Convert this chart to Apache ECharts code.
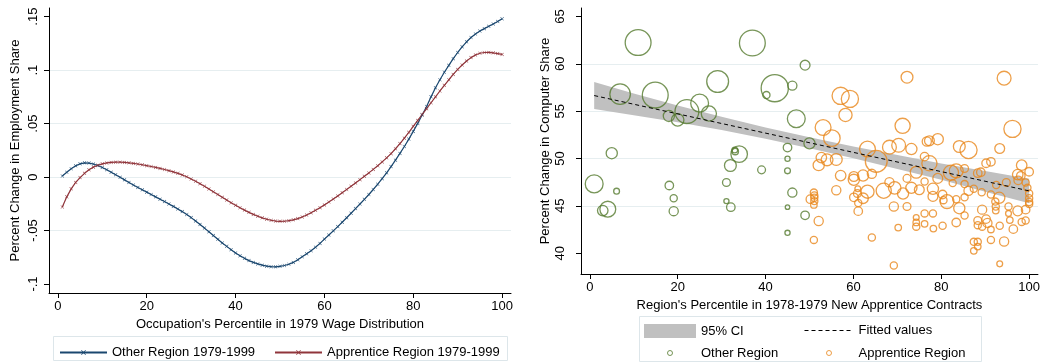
<!DOCTYPE html>
<html><head><meta charset="utf-8">
<script src="https://cdn.jsdelivr.net/npm/echarts@6/dist/echarts.min.js"></script>
<style>html,body{margin:0;padding:0;background:#fff}#c{width:1043px;height:363px}</style>
</head><body><div id="c"></div><script>
// ---------- Left panel data ----------
const pct = [1,2,3,4,5,6,7,8,9,10,11,12,13,14,15,16,17,18,19,20,21,22,23,24,25,26,27,28,29,30,31,32,33,34,35,36,37,38,39,40,41,42,43,44,45,46,47,48,49,50,51,52,53,54,55,56,57,58,59,60,61,62,63,64,65,66,67,68,69,70,71,72,73,74,75,76,77,78,79,80,81,82,83,84,85,86,87,88,89,90,91,92,93,94,95,96,97,98,99,100];
const otherShare = [0.001,0.0045,0.0078,0.0105,0.0124,0.0133,0.0131,0.0122,0.0108,0.0090,
  0.0069,0.0046,0.0022,-0.0002,-0.0026,-0.005,-0.0074,-0.0097,-0.0119,-0.0141,
  -0.0163,-0.0185,-0.0207,-0.0229,-0.0251,-0.0274,-0.0298,-0.0323,-0.035,-0.0379,
  -0.041,-0.0443,-0.0477,-0.0512,-0.0547,-0.0582,-0.0616,-0.0648,-0.0679,-0.0709,
  -0.0736,-0.076,-0.0781,-0.0798,-0.0812,-0.0824,-0.0833,-0.0838,-0.0839,-0.0835,
  -0.0827,-0.0815,-0.0798,-0.0774,-0.0745,-0.0718,-0.0689,-0.0656,-0.062,-0.058,
  -0.0542,-0.0503,-0.0463,-0.0422,-0.038,-0.0338,-0.0295,-0.0252,-0.0208,-0.0163,
  -0.0116,-0.0067,-0.0015,0.004,0.0098,0.0158,0.0221,0.0286,0.0355,0.0427,
  0.0502,0.058,0.066,0.075,0.0835,0.091,0.098,0.1045,0.1107,0.1165,
  0.1218,0.1265,0.1305,0.1338,0.1365,0.1388,0.141,0.1432,0.1455,0.148];
const apprShare = [-0.028,-0.0185,-0.011,-0.005,-0.0005,0.0035,0.0068,0.0093,0.0111,0.0124,
  0.0132,0.0137,0.0139,0.0139,0.0137,0.0133,0.0128,0.0122,0.0115,0.0107,
  0.0099,0.009,0.0081,0.0071,0.006,0.0048,0.0035,0.002,0.0003,-0.0018,
  -0.0039,-0.0062,-0.0086,-0.0111,-0.0137,-0.0163,-0.0189,-0.0215,-0.024,-0.0264,
  -0.0287,-0.0309,-0.033,-0.0349,-0.0366,-0.0381,-0.0394,-0.0404,-0.0411,-0.0414,
  -0.0413,-0.0408,-0.04,-0.0388,-0.0373,-0.0355,-0.0334,-0.0311,-0.0286,-0.026,
  -0.0233,-0.0205,-0.0176,-0.0146,-0.0116,-0.0086,-0.0055,-0.0024,0.0007,0.0039,
  0.0072,0.0106,0.0142,0.018,0.0219,0.0265,0.0313,0.0364,0.0418,0.0475,
  0.053,0.0585,0.064,0.0695,0.075,0.0805,0.0858,0.091,0.096,0.1007,
  0.1048,0.1085,0.1117,0.1142,0.1158,0.1165,0.1166,0.1162,0.1155,0.1147];
const xTicks = [0,20,40,60,80,100];
const leftYTicks = [-0.1,-0.05,0,0.05,0.1,0.15];
const leftYLabels = ['-.1','-.05','0','.05','.1','.15'];

// ---------- Right panel data ----------
const rightYTicks = [40,45,50,55,60,65];
// Other Region: percentile, % change, weight
const otherX = [11.0,37.0,49.0,29.1,42.1,46.1,40.2,6.9,14.9,25.0,22.1,27.1,18.0,20.0,47.0,50.0,45.0,5.0,33.0,33.1,34.0,32.0,45.0,45.0,39.1,1.0,6.1,18.1,31.1,46.1,19.1,31.1,32.1,45.0,2.95,4.1,19.1,49.0,45.0];
const otherY = [62.25,62.2,59.86,58.13,57.43,57.7,56.7,56.8,56.7,55.85,54.96,54.75,54.5,54.08,54.2,51.6,51.16,50.56,50.9,50.74,50.46,49.26,49.97,48.7,48.8,47.32,46.55,47.15,47.46,46.4,45.8,45.5,44.86,44.86,44.5,44.65,44.44,44.0,42.15];
const otherW = [1444,1444,196,1024,1600,169,100,900,1444,676,1225,484,256,324,676,256,144,256,64,81,576,289,49,64,121,676,64,144,121,169,100,49,144,36,225,529,169,144,49];
// Apprentice Region
const apprX = [51.0,51.1,51.1,50.2,51.1,51.0,52.1,51.0,
  72.2,57.1,59.2,58.2,53.1,71.2,55.1,76.7,63.2,68.2,70.3,73.2,65.2,52.1,52.7,54.0,56.1,57.1,60.1,60.1,62.2,64.2,56.1,60.1,61.0,60.9,62.2,63.2,66.9,69.4,68.2,71.3,73.2,75.0,74.3,72.2,61.1,61.1,69.2,72.2,76.2,74.3,74.3,74.3,76.2,70.2,64.2,69.2,
  94.3,96.2,79.2,77.3,84.1,86.2,93.3,76.2,77.3,90.2,91.3,98.3,85.3,83.4,82.2,88.3,89.0,100,97.4,98.1,79.2,94.8,99.2,97.5,85.3,82.6,76.2,78.1,87.4,86.2,89.2,91.3,92.5,78.1,80.3,80.5,81.3,83.4,85.3,84.1,93.2,92.3,92.4,92.4,89.3,95.3,95.3,97.4,99.2,100,100,100,100,99.6,78.1,83.4,85.3,80.3,78.2,88.3,90.2,88.3,89.3,90.5,91.3,93.3,91.3,94.3,87.4,88.3,88.3,87.4,96.4,98.3,99.2,95.6,93.3];
const apprY = [46.4,46.1,45.85,45.7,45.5,45.1,43.4,41.4,
  58.59,56.62,56.3,54.6,53.27,53.45,52.15,51.8,51.0,51.2,51.4,51.0,49.7,49.3,50.1,49.86,49.9,48.2,48.1,47.75,48.2,48.38,46.65,45.9,46.8,46.3,45.8,46.5,46.6,46.9,47.5,46.3,46.9,46.7,48.55,47.9,45.3,44.44,44.93,44.93,44.2,43.77,43.25,42.8,43.1,42.7,41.65,38.7,
  58.49,53.13,52.04,51.87,51.27,50.9,51.06,50.2,49.5,49.5,49.65,49.3,48.94,48.7,48.5,48.45,48.55,48.6,48.3,48.17,47.9,47.46,47.46,47.7,47.3,47.4,47.57,46.8,46.8,46.6,46.44,46.2,47.2,46.0,46.2,45.6,45.45,45.7,45.9,44.75,45.85,45.45,44.93,44.5,44.6,44.93,44.2,44.47,44.6,45.8,45.4,45.2,46.3,46.9,44.2,43.24,43.98,42.9,42.6,43.45,43.6,42.96,42.8,43.2,42.5,42.9,41.4,41.23,41.2,41.2,40.7,40.25,42.54,43.3,43.45,43.5,38.87];
const apprW = [100,100,100,144,100,81,169,100,
  289,625,625,361,529,484,576,169,529,400,400,256,1024,256,225,289,289,225,196,256,256,169,169,144,64,121,225,361,484,324,169,256,256,196,289,121,100,144,169,121,100,64,81,100,81,81,100,100,
  400,625,256,196,289,625,196,144,484,144,144,225,121,400,484,144,144,144,225,144,196,121,100,144,100,100,100,256,100,169,100,100,100,196,144,100,400,100,100,256,256,100,100,81,169,100,64,196,144,100,100,100,100,100,100,144,100,100,81,121,144,100,100,169,81,100,100,169,100,100,81,81,144,100,100,81,64];
// Fitted line and 95% CI
const fitX = [1, 100];
const fitY = [56.65, 46.58];
const ciX = [1,10,20,30,40,50,60,70,80,90,100];
const ciHi = [58.08,56.88,55.60,54.40,53.28,52.24,51.26,50.38,49.46,48.69,47.87];
const ciLo = [55.22,54.58,53.84,53.00,52.08,51.08,50.02,48.88,47.76,46.49,45.27];

// ---------- Styles ----------
const FONT = 'Liberation Sans, Arial, sans-serif';
const BLUE = '#1a476f', RED = '#90353b', GREEN = '#557a2e', ORANGE = '#e8871c';
const GRID_COLOR = '#e6eef0';
const XMARK = 'path://M0,1L1,0L5,4L9,0L10,1L6,5L10,9L9,10L5,6L1,10L0,9L4,5Z';

function fmtFrom(ticks, labels) {
  return function (v) {
    const i = ticks.findIndex(t => Math.abs(t - v) < 1e-9);
    return i >= 0 ? labels[i] : '';
  };
}
function xAxisCfg(gridIndex, name) {
  return {
    type: 'value', gridIndex, min: -2, max: 102, splitNumber: 5,
    name, nameLocation: 'middle', nameGap: 21,
    nameTextStyle: { fontSize: 13, color: '#000', fontFamily: FONT },
    axisLine: { show: true, onZero: false, lineStyle: { color: '#000', width: 1 } },
    axisTick: { show: true, length: 5, customValues: xTicks, lineStyle: { color: '#000' } },
    axisLabel: { customValues: xTicks, margin: 7, fontSize: 13, color: '#000', fontFamily: FONT,
      formatter: fmtFrom(xTicks, xTicks.map(String)), showMinLabel: true, showMaxLabel: true },
    splitLine: { show: false }
  };
}
function yAxisCfg(gridIndex, name, min, max, ticks, labels, nameGap, margin) {
  return {
    type: 'value', gridIndex, min, max, splitNumber: 5,
    name, nameLocation: 'middle', nameGap, nameRotate: 90,
    nameTextStyle: { fontSize: 13, color: '#000', fontFamily: FONT },
    axisLine: { show: true, onZero: false, lineStyle: { color: '#000', width: 1 } },
    axisTick: { show: true, length: 5, customValues: ticks, lineStyle: { color: '#000' } },
    axisLabel: { customValues: ticks, rotate: 90, margin, fontSize: 13, color: '#000', fontFamily: FONT,
      formatter: fmtFrom(ticks, labels) },
    splitLine: { show: true, showMinLine: false, showMaxLine: false, lineStyle: { color: GRID_COLOR, width: 1 } }
  };
}
function legendCfg(item, left, top, w, h) {
  return { data: [item], left, top, padding: 0, itemWidth: w, itemHeight: h, selectedMode: false,
    textStyle: { fontSize: 13, color: '#000', fontFamily: FONT } };
}

const chart = echarts.init(document.getElementById('c'), null, { renderer: 'canvas' });
chart.setOption({
  animation: false,
  backgroundColor: '#fff',
  textStyle: { fontFamily: FONT },
  grid: [
    { left: 49, top: 8, width: 462, height: 285 },
    { left: 581, top: 8, width: 458, height: 266 }
  ],
  xAxis: [
    xAxisCfg(0, "Occupation's Percentile in 1979 Wage Distribution"),
    xAxisCfg(1, "Region's Percentile in 1978-1979 New Apprentice Contracts")
  ],
  yAxis: [
    yAxisCfg(0, 'Percent Change in Employment Share', -0.1084, 0.1581, leftYTicks, leftYLabels, 27, 9),
    yAxisCfg(1, 'Percent Change in Computer Share', 37.8, 65.9, rightYTicks, rightYTicks.map(String), 29, 14)
  ],
  legend: [
    legendCfg({ name: 'Other Region 1979-1999' }, 59, 346, 47, 6),
    legendCfg({ name: 'Apprentice Region 1979-1999' }, 274, 346, 47, 6),
    legendCfg({ name: '95% CI', icon: 'rect' }, 644, 324, 52, 14),
    legendCfg({ name: 'Fitted values', itemStyle: { color: 'rgba(0,0,0,0)', borderColor: 'rgba(0,0,0,0)', borderWidth: 0 },
      lineStyle: { color: '#000', width: 1, type: [4, 3] } }, 804, 324, 49, 14),
    legendCfg({ name: 'Other Region', icon: 'circle', itemStyle: { color: 'rgba(0,0,0,0)', borderColor: GREEN, borderWidth: 1 } }, 667, 346.5, 52, 5),
    legendCfg({ name: 'Apprentice Region', icon: 'circle', itemStyle: { color: 'rgba(0,0,0,0)', borderColor: ORANGE, borderWidth: 1 } }, 826, 346.5, 49, 5)
  ],
  graphic: [
    { type: 'rect', shape: { x: 53.5, y: 336.5, width: 454, height: 24 }, style: { fill: 'none', stroke: '#dde6ea', lineWidth: 1 }, silent: true },
    { type: 'rect', shape: { x: 639.5, y: 316.5, width: 342, height: 45 }, style: { fill: 'none', stroke: '#dde6ea', lineWidth: 1 }, silent: true }
  ],
  series: [
    {
      name: 'Other Region 1979-1999', type: 'line', xAxisIndex: 0, yAxisIndex: 0,
      data: pct.map((p, i) => [p, otherShare[i]]),
      symbol: XMARK, symbolSize: 3.5, showSymbol: true,
      itemStyle: { color: BLUE }, lineStyle: { color: BLUE, width: 1.2 }
    },
    {
      name: 'Apprentice Region 1979-1999', type: 'line', xAxisIndex: 0, yAxisIndex: 0,
      data: pct.map((p, i) => [p, apprShare[i]]),
      symbol: XMARK, symbolSize: 3.5, showSymbol: true,
      itemStyle: { color: RED }, lineStyle: { color: RED, width: 1.2 }
    },
    {
      name: '95% CI', type: 'custom', xAxisIndex: 1, yAxisIndex: 1,
      itemStyle: { color: '#c0c0c0' },
      encode: { x: 0, y: [1, 2] },
      data: ciX.map((x, i) => [x, ciLo[i], ciHi[i]]),
      renderItem: function (params, api) {
        if (params.dataIndex !== 0) return null;
        const pts = [];
        for (let i = 0; i < ciX.length; i++) pts.push(api.coord([ciX[i], ciHi[i]]));
        for (let i = ciX.length - 1; i >= 0; i--) pts.push(api.coord([ciX[i], ciLo[i]]));
        return { type: 'polygon', shape: { points: pts }, style: { fill: '#c0c0c0' } };
      },
      z: 1
    },
    {
      name: 'Other Region', type: 'scatter', xAxisIndex: 1, yAxisIndex: 1,
      data: otherX.map((x, i) => [x, otherY[i], otherW[i]]),
      symbol: 'circle', symbolSize: v => Math.sqrt(v[2]) * 2 / 3 + 0.5,
      itemStyle: { color: 'rgba(0,0,0,0)', borderColor: GREEN, borderWidth: 1.3 },
      z: 2
    },
    {
      name: 'Apprentice Region', type: 'scatter', xAxisIndex: 1, yAxisIndex: 1,
      data: apprX.map((x, i) => [x, apprY[i], apprW[i]]),
      symbol: 'circle', symbolSize: v => Math.sqrt(v[2]) * 2 / 3 + 0.5,
      itemStyle: { color: 'rgba(0,0,0,0)', borderColor: ORANGE, borderWidth: 1.3 },
      z: 2
    },
    {
      name: 'Fitted values', type: 'line', xAxisIndex: 1, yAxisIndex: 1,
      data: fitX.map((x, i) => [x, fitY[i]]),
      symbol: 'none', itemStyle: { color: '#000' },
      lineStyle: { color: '#000', width: 1, type: [4, 3] },
      z: 3
    }
  ]
});
</script></body></html>
